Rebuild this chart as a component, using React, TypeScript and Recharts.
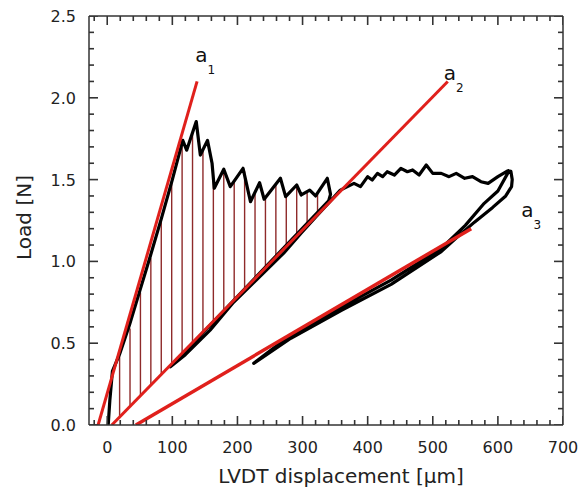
import { ComposedChart, Line, ReferenceLine, Scatter, XAxis, YAxis } from "recharts";

// load–displacement record (LVDT µm, N)
const loadCurve = [
  { x: 1.5, y: 0 }, { x: 4, y: 0.15 }, { x: 8, y: 0.33 }, { x: 19.6, y: 0.44 },
  { x: 34, y: 0.61 }, { x: 50, y: 0.82 }, { x: 66, y: 1.03 }, { x: 83, y: 1.26 },
  { x: 100, y: 1.5 }, { x: 116, y: 1.74 },
  // serrated part
  { x: 122, y: 1.68 }, { x: 136.7, y: 1.855 }, { x: 143, y: 1.65 }, { x: 154, y: 1.74 },
  { x: 161, y: 1.6 }, { x: 164.4, y: 1.447 }, { x: 179, y: 1.563 }, { x: 189, y: 1.457 },
  { x: 208.6, y: 1.569 }, { x: 220, y: 1.365 }, { x: 234, y: 1.481 }, { x: 241, y: 1.38 },
  { x: 266, y: 1.508 }, { x: 274, y: 1.396 }, { x: 291, y: 1.467 }, { x: 298, y: 1.406 },
  { x: 311, y: 1.436 }, { x: 320, y: 1.4 }, { x: 338, y: 1.508 }, { x: 343, y: 1.41 },
  // first unload / reload
  { x: 340, y: 1.37 }, { x: 97, y: 0.356 }, { x: 120, y: 0.43 }, { x: 158, y: 0.58 },
  { x: 194, y: 0.75 }, { x: 230, y: 0.89 }, { x: 271, y: 1.05 }, { x: 297, y: 1.17 },
  { x: 320, y: 1.27 }, { x: 343, y: 1.37 }, { x: 358, y: 1.436 },
  // plateau
  { x: 379, y: 1.477 }, { x: 389, y: 1.457 }, { x: 400, y: 1.518 }, { x: 407, y: 1.497 },
  { x: 415, y: 1.538 }, { x: 423, y: 1.518 }, { x: 430, y: 1.548 }, { x: 441, y: 1.528 },
  { x: 451, y: 1.569 }, { x: 461, y: 1.548 }, { x: 469, y: 1.559 }, { x: 479, y: 1.528 },
  { x: 490, y: 1.589 }, { x: 500, y: 1.538 }, { x: 513, y: 1.538 }, { x: 525, y: 1.518 },
  { x: 536, y: 1.538 }, { x: 549, y: 1.508 }, { x: 561, y: 1.518 }, { x: 574, y: 1.487 },
  { x: 585, y: 1.477 }, { x: 600, y: 1.518 }, { x: 615, y: 1.554 }, { x: 620, y: 1.55 },
  // second unload / reload loop
  { x: 622, y: 1.5 }, { x: 621, y: 1.457 }, { x: 612, y: 1.4 }, { x: 592, y: 1.33 },
  { x: 564, y: 1.24 }, { x: 538, y: 1.15 }, { x: 513, y: 1.06 }, { x: 436, y: 0.86 },
  { x: 359, y: 0.7 }, { x: 282, y: 0.53 }, { x: 225, y: 0.377 }, { x: 282, y: 0.55 },
  { x: 359, y: 0.72 }, { x: 436, y: 0.885 }, { x: 513, y: 1.08 }, { x: 550, y: 1.22 },
  { x: 579, y: 1.355 }, { x: 600, y: 1.43 }, { x: 618, y: 1.56 },
];

// stiffness fits a1, a2, a3
const fitA1 = [{ x: -14, y: 0 }, { x: 138, y: 2.1 }];
const fitA2 = [{ x: 7, y: 0 }, { x: 523, y: 2.1 }];
const fitA3 = [{ x: 44, y: 0 }, { x: 559, y: 1.2 }];

// hatching between curve and a2
const hatchX = [19, 35, 51, 67, 83, 99, 115, 131, 147, 163, 179, 195, 211, 227, 243, 259, 275, 291, 307, 323];
const hatchLow = [0.05, 0.11, 0.175, 0.24, 0.31, 0.37, 0.435, 0.5, 0.565, 0.63, 0.695, 0.76, 0.825, 0.89, 0.955, 1.02, 1.085, 1.15, 1.215, 1.28];
const hatchHigh = [0.43, 0.59, 0.81, 1.02, 1.25, 1.49, 1.72, 1.79, 1.68, 1.5, 1.56, 1.49, 1.55, 1.42, 1.39, 1.47, 1.4, 1.467, 1.43, 1.42];

const lineLabels = [
  { x: 135, y: 2.22, sub: "1" },
  { x: 517, y: 2.11, sub: "2" },
  { x: 636, y: 1.27, sub: "3" },
];

const X_MIN = -28;
const X_MAX = 700;
const Y_MIN = 0;
const Y_MAX = 2.5;
const X_MAJOR = [0, 100, 200, 300, 400, 500, 600, 700];
const Y_MAJOR = [0, 0.5, 1, 1.5, 2, 2.5];
const X_TICKS: number[] = [];
for (let v = -20; v <= 700; v += 20) X_TICKS.push(v);
const Y_TICKS: number[] = [];
for (let i = 0; i <= 25; i++) Y_TICKS.push(i / 10);

const FONT = "DejaVu Sans, sans-serif";
const AXIS = "#333";
const RED = "#e0201c";

const isMajorX = (v: number) => X_MAJOR.includes(v);
const isMajorY = (v: number) => Y_MAJOR.some((m) => Math.abs(m - v) < 1e-6);

// inward tick marks on the four frame sides
const bottomMarks = X_TICKS.map((v) => ({ x: v, y: Y_MIN, dir: "up", len: isMajorX(v) ? 9 : 5 }));
const topMarks = X_TICKS.map((v) => ({ x: v, y: Y_MAX, dir: "down", len: isMajorX(v) ? 9 : 5 }));
const leftMarks = Y_TICKS.map((v) => ({ x: X_MIN, y: v, dir: "right", len: isMajorY(v) ? 9 : 5 }));
const rightMarks = Y_TICKS.map((v) => ({ x: X_MAX, y: v, dir: "left", len: isMajorY(v) ? 9 : 5 }));

function TickMark(props: any) {
  const { cx, cy, payload } = props;
  const { dir, len } = payload;
  const d =
    dir === "up" ? `M${cx},${cy}V${cy - len}` :
    dir === "down" ? `M${cx},${cy}V${cy + len}` :
    dir === "right" ? `M${cx},${cy}H${cx + len}` :
    `M${cx},${cy}H${cx - len}`;
  return (
    <g>
      <path d={d} stroke={AXIS} strokeWidth={1.6} fill="none" />
    </g>
  );
}

function BottomLabel(props: any) {
  if (!isMajorX(props.payload.value)) return <g />;
  return (
    <text x={props.x} y={Number(props.y) + 28} textAnchor="middle" fontFamily={FONT} fontSize={16} fill="#222">
      {props.payload.value}
    </text>
  );
}

function LeftLabel(props: any) {
  if (!isMajorY(props.payload.value)) return <g />;
  return (
    <text x={Number(props.x) - 13} y={Number(props.y) + 6} textAnchor="end" fontFamily={FONT} fontSize={16} fill="#222">
      {props.payload.value.toFixed(1)}
    </text>
  );
}

function XTitle({ viewBox }: any) {
  return (
    <text x={viewBox.x + viewBox.width / 2 + 15} y={viewBox.y + 58} textAnchor="middle" fontFamily={FONT} fontSize={20} fill="#222">
      LVDT displacement [μm]
    </text>
  );
}

function YTitle({ viewBox }: any) {
  const cx = 31;
  const cy = viewBox.y + viewBox.height / 2 - 3;
  return (
    <text x={cx} y={cy} transform={`rotate(-90, ${cx}, ${cy})`} textAnchor="middle" fontFamily={FONT} fontSize={20} fill="#222">
      Load [N]
    </text>
  );
}

function FitLabel({ cx, cy, payload }: any) {
  return (
    <text x={cx} y={cy} fontFamily={FONT} fontSize={20} fill="#111">
      a
      <tspan fontSize={12} dy={12}>{payload.sub}</tspan>
    </text>
  );
}

export default function App() {
  return (
    <div style={{ position: "absolute", left: 0, top: 0 }}>
      <ComposedChart width={586} height={490} margin={{ top: 16, right: 23, bottom: 0, left: 0 }}>
        <XAxis
          type="number"
          dataKey="x"
          domain={[X_MIN, X_MAX]}
          allowDataOverflow
          ticks={X_TICKS}
          interval={0}
          height={65}
          tickSize={0}
          tickMargin={0}
          tickLine={false}
          tick={<BottomLabel />}
          axisLine={{ stroke: AXIS, strokeWidth: 1.5 }}
          label={{ content: <XTitle /> }}
        />
        <YAxis
          type="number"
          dataKey="y"
          domain={[Y_MIN, Y_MAX]}
          allowDataOverflow
          ticks={Y_TICKS}
          interval={0}
          width={89}
          tickSize={0}
          tickMargin={0}
          tickLine={false}
          tick={<LeftLabel />}
          axisLine={{ stroke: AXIS, strokeWidth: 1.5 }}
          label={{ content: <YTitle /> }}
        />
        {/* top and right sides of the frame */}
        <ReferenceLine y={Y_MAX} stroke={AXIS} strokeWidth={1.5} />
        <ReferenceLine x={X_MAX} stroke={AXIS} strokeWidth={1.5} />
        {hatchX.map((hx, i) => (
          <ReferenceLine
            key={hx}
            segment={[{ x: hx, y: hatchLow[i] }, { x: hx, y: hatchHigh[i] }]}
            stroke="#8e2a2a"
            strokeWidth={1.4}
          />
        ))}
        <Line data={loadCurve} dataKey="y" type="linear" stroke="#000" strokeWidth={3.2} dot={false} strokeLinejoin="round" isAnimationActive={false} />
        <Line data={fitA1} dataKey="y" type="linear" stroke={RED} strokeWidth={3} dot={false} isAnimationActive={false} />
        <Line data={fitA2} dataKey="y" type="linear" stroke={RED} strokeWidth={3} dot={false} isAnimationActive={false} />
        <Line data={fitA3} dataKey="y" type="linear" stroke={RED} strokeWidth={3.5} dot={false} isAnimationActive={false} />
        <Scatter data={bottomMarks} dataKey="y" shape={<TickMark />} isAnimationActive={false} />
        <Scatter data={topMarks} dataKey="y" shape={<TickMark />} isAnimationActive={false} />
        <Scatter data={leftMarks} dataKey="y" shape={<TickMark />} isAnimationActive={false} />
        <Scatter data={rightMarks} dataKey="y" shape={<TickMark />} isAnimationActive={false} />
        <Scatter data={lineLabels} dataKey="y" shape={<FitLabel />} isAnimationActive={false} />
      </ComposedChart>
    </div>
  );
}
